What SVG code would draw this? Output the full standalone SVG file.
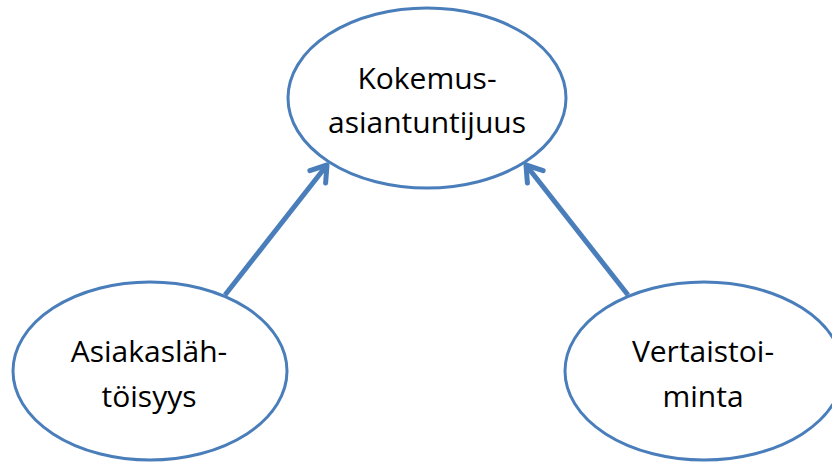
<svg xmlns="http://www.w3.org/2000/svg" width="832" height="462" viewBox="0 0 832 462">
<style>
.node ellipse{fill:#fff;stroke:#4a7ebb;stroke-width:3}
.node text{font-family:"Open Sans","Liberation Sans",sans-serif;font-size:30px;fill:#000;text-anchor:middle}
.conn line{stroke:#4a7ebb;stroke-width:5;stroke-linecap:butt}
</style>
<defs>
<marker id="arr" markerUnits="userSpaceOnUse" markerWidth="40" markerHeight="40" viewBox="-20 -20 40 40" refX="0" refY="0" orient="auto">
<path d="M-15,-10 L0,0 L-15,10" fill="none" stroke="#4a7ebb" stroke-width="5" stroke-linecap="round" stroke-linejoin="round"/>
</marker>
</defs>
<rect width="832" height="462" fill="#fff"/>
<g id="node-kokemus" class="node">
<ellipse cx="427" cy="98" rx="139" ry="90"/>
<text x="427" y="89">Kokemus-</text>
<text x="427" y="133">asiantuntijuus</text>
</g>
<g id="node-asiakas" class="node">
<ellipse cx="150" cy="371" rx="137" ry="89"/>
<text x="149" y="362">Asiakasläh-</text>
<text x="149" y="407">töisyys</text>
</g>
<g id="node-vertais" class="node">
<ellipse cx="704" cy="371" rx="139" ry="89"/>
<text x="703" y="362">Vertaistoi-</text>
<text x="703" y="407">minta</text>
</g>
<g id="connectors" class="conn">
<line x1="225" y1="295" x2="327" y2="165" marker-end="url(#arr)"/>
<line x1="628" y1="295" x2="526" y2="165" marker-end="url(#arr)"/>
</g>
</svg>
